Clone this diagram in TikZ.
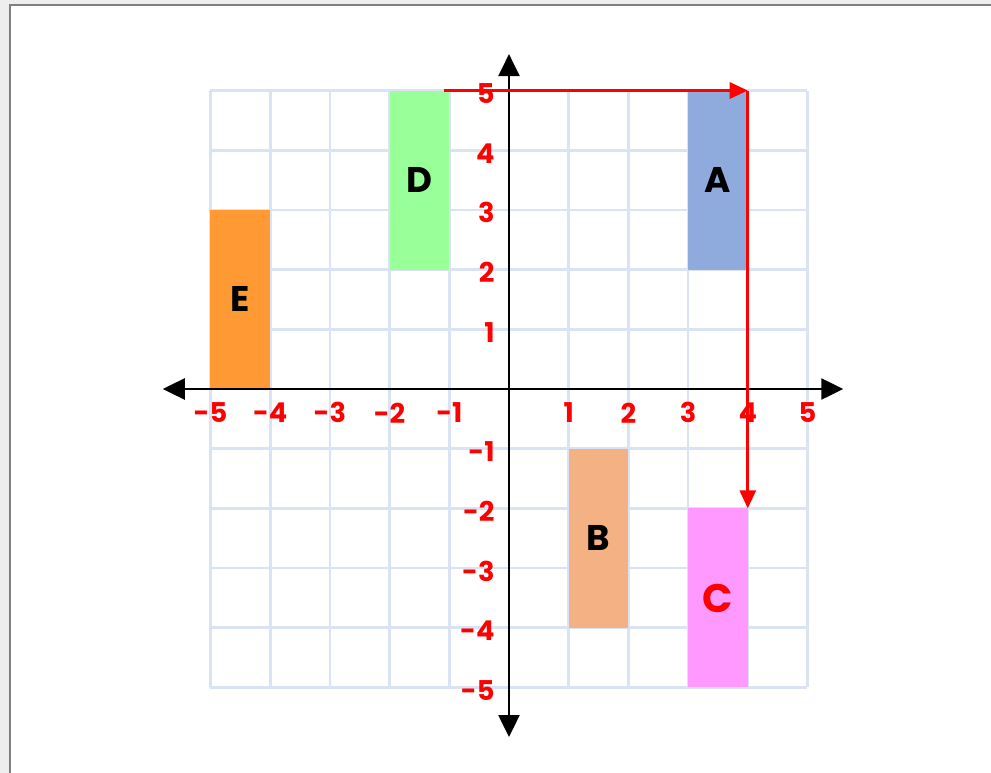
\documentclass[tikz,border=0pt]{standalone}
\usepackage{fontspec}
\setmainfont{Poppins}
\usetikzlibrary{arrows.meta}

\definecolor{mrizka}{HTML}{DAE3F3}
\definecolor{ramecek}{HTML}{808080}
\definecolor{okoli}{HTML}{EEEEEE}
\definecolor{modra}{HTML}{8FAADC}
\definecolor{lososova}{HTML}{F4B183}
\definecolor{ruzova}{HTML}{FF99FF}
\definecolor{zelena}{HTML}{99FF99}
\definecolor{oranzova}{HTML}{FF9933}

\tikzset{
    cislo/.style={text=red, font=\fontsize{13}{15}\selectfont\bfseries, inner sep=1pt},
    pismeno/.style={text=black, font=\fontsize{17}{19}\selectfont\bfseries},
    osa/.style={line width=1.2pt, {Triangle[length=10.5pt, width=10pt]}-{Triangle[length=10.5pt, width=10pt]}},
    posun/.style={red, line width=1.5pt, -{Triangle[length=8.6pt, width=7.6pt]}}
}

\begin{document}
\begin{tikzpicture}
        \useasboundingbox (-8.526,-6.432) rectangle (8.074,6.516);

        % okraj a rámeček
        \fill[okoli] (-8.526,-6.432) rectangle (8.074,6.516);
        \fill[white] (-8.358,-6.432) rectangle (8.074,6.432);
        \draw[ramecek, line width=1.4pt] (-8.358,-6.432) -- (-8.358,6.432) -- (8.074,6.432);

        % mřížka
        \draw[mrizka, line width=1.3pt] (-5,-5) grid (5,5);

        % obdélníky
        \fill[modra] (3,2) rectangle (4,5);
        \node[pismeno] (popisA) at (3.5,3.5) {A};

        \fill[lososova] (1,-1) rectangle (2,-4);
        \node[pismeno] (popisB) at (1.5,-2.5) {B};

        \fill[ruzova] (3,-2) rectangle (4,-5);
        \node[pismeno, text=red, font=\fontsize{19}{21}\selectfont\bfseries] (popisC) at (3.5,-3.5) {C};

        \fill[zelena] (-2,2) rectangle (-1,5);
        \node[pismeno] (popisD) at (-1.5,3.5) {D};

        \fill[oranzova] (-5,0) rectangle (-4,3);
        \node[pismeno] (popisE) at (-4.5,1.5) {E};

        % osy
        \coordinate (levy) at (-5.8,0);
        \coordinate (pravy) at (5.6,0);
        \coordinate (dolni) at (0,-5.83);
        \coordinate (horni) at (0,5.61);
        \draw[osa] (levy) -- (pravy);
        \draw[osa] (dolni) -- (horni);

        % čísla na osách
        \foreach \x in {-5,...,-1,1,2,...,5}
            \node[cislo] (x\x) at (\x,-0.4) {\x};
        \foreach \y in {-5,...,-1,1,2,...,5}
            \node[cislo, anchor=east] (y\y) at (-0.2,\y-0.05) {\y};

        % posunutí
        \coordinate (start) at (-1.09,5);
        \coordinate (roh) at (4,5);
        \coordinate (cil) at (4,-2);
        \draw[posun] (start) -- (roh);
        \draw[posun] (roh) -- (cil);
    \end{tikzpicture}
\end{document}
